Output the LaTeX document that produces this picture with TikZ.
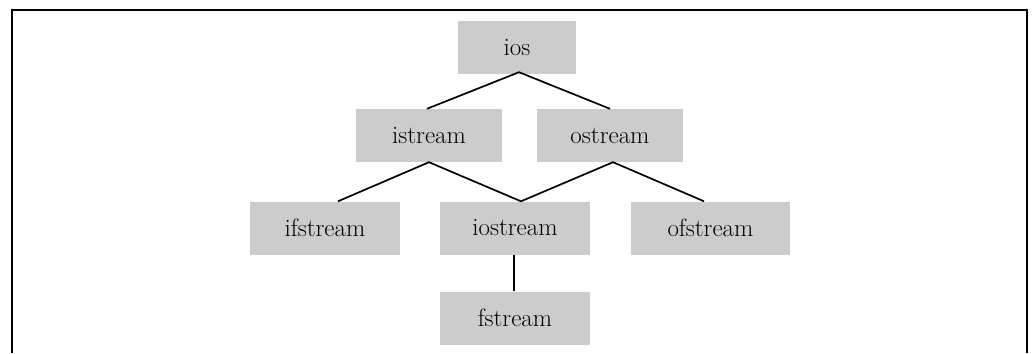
\documentclass[tikz,border=0pt]{standalone}
\usetikzlibrary{calc}
\begin{document}
\begin{tikzpicture}[x=1pt,y=-1pt,
  cls/.style={fill=boxgray,draw=none,inner sep=0pt,minimum height=53pt,font=\fontsize{25}{29}\selectfont},
  link/.style={draw=black,line width=1.7pt}]
\definecolor{boxgray}{HTML}{CCCCCC}
\useasboundingbox (0,0) rectangle (1032,353);
\draw[line width=2.4pt] (12,353) -- (12,10) -- (1027,10) -- (1027,353);
\node[cls,minimum width=118pt] (ios) at (517,47.5) {ios};
\node[cls,minimum width=146pt] (is) at (429,135.5) {istream};
\node[cls,minimum width=146pt] (os) at (610,135.5) {ostream};
\node[cls,minimum width=150pt] (ifs) at (325,228) {ifstream};
\node[cls,minimum width=150pt] (ios2) at (515,228) {iostream};
\node[cls,minimum width=159pt] (ofs) at (710.5,228) {ofstream};
\node[cls,minimum width=150pt] (fs) at (515,318) {fstream};
\draw[link] ($(is.north)+(-2,0)$) -- ($(ios.south)+(2,-2)$) -- ($(os.north)$);
\draw[link] ($(ifs.north)+(13,0)$) -- ($(is.south)$) -- ($(ios2.north)+(6,0)$) -- ($(os.south)+(3,0)$) -- ($(ofs.north)+(-6.5,0)$);
\draw[link] ($(ios2.south)+(-1,0)$) -- ($(fs.north)+(-1,0)$);
\end{tikzpicture}
\end{document}
